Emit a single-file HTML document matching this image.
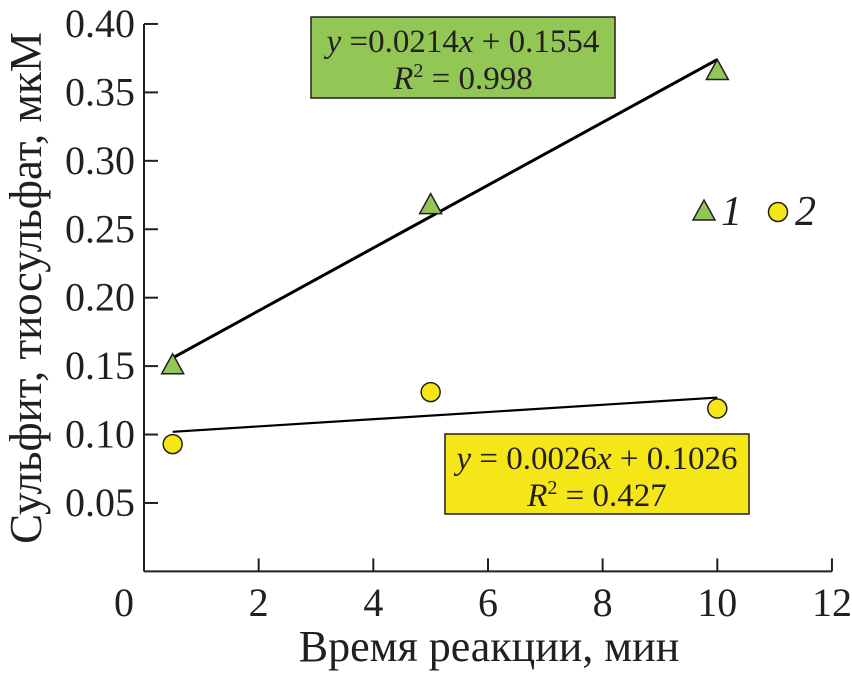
<!DOCTYPE html>
<html><head><meta charset="utf-8"><style>
html,body{margin:0;padding:0;background:#fff;}
svg text{font-family:"Liberation Serif",serif;fill:#231f20;}
</style></head><body>
<svg id="chart" width="852" height="673" viewBox="0 0 852 673" xmlns="http://www.w3.org/2000/svg">
<g id="axes"></g>
<g id="fits"></g>
<g id="marks"></g>
<rect x="311" y="17" width="304" height="81" fill="#92c756" stroke="#231f20" stroke-width="1.5"/>
<text x="463" y="52" font-size="33" text-anchor="middle"><tspan font-style="italic">y</tspan> =0.0214<tspan font-style="italic">x</tspan> + 0.1554</text>
<text x="463" y="89" font-size="33" text-anchor="middle"><tspan font-style="italic">R</tspan><tspan font-size="20" dy="-12">2</tspan><tspan dy="12"> = 0.998</tspan></text>
<rect x="445" y="434" width="304" height="80" fill="#f5e617" stroke="#231f20" stroke-width="1.5"/>
<text x="597" y="469" font-size="33" text-anchor="middle"><tspan font-style="italic">y</tspan> = 0.0026<tspan font-style="italic">x</tspan> + 0.1026</text>
<text x="597" y="506" font-size="33" text-anchor="middle"><tspan font-style="italic">R</tspan><tspan font-size="20" dy="-12">2</tspan><tspan dy="12"> = 0.427</tspan></text>
<g>
<polygon points="704,200 715,220 693,220" fill="#92c756" stroke="#231f20" stroke-width="1.5"/>
<text x="721" y="225" font-size="42" font-style="italic">1</text>
<circle cx="778" cy="212" r="9.5" fill="#f5e617" stroke="#231f20" stroke-width="1.5"/>
<text x="795" y="225" font-size="42" font-style="italic">2</text>
</g>
<text x="489" y="661" font-size="44" text-anchor="middle">Время реакции, мин</text>
<text transform="translate(41,288) rotate(-90)" font-size="45" text-anchor="middle">Сульфит, тиосульфат, мкМ</text>
</svg>
<script>
const xTicks=[0,2,4,6,8,10,12];
const yTicks=[0.05,0.10,0.15,0.20,0.25,0.30,0.35,0.40];
const yTickLabels=["0.05","0.10","0.15","0.20","0.25","0.30","0.35","0.40"];
const times=[0.5,5,10];
const series1=[0.151,0.268,0.366];
const series2=[0.093,0.131,0.119];
const fitX=[0.5,10];
const fit1=[0.156,0.374];
const fit2=[0.102,0.127];
const NS="http://www.w3.org/2000/svg";
function sx(v){return 144+v*57.33;}
function sy(v){return 571.4-v*1368.6;}
function mk(tag,attrs,parent){const e=document.createElementNS(NS,tag);for(const k in attrs)e.setAttribute(k,attrs[k]);parent.appendChild(e);return e;}
const axes=document.getElementById('axes');
let l=mk('line',{x1:sx(0),y1:sy(0),x2:sx(12),y2:sy(0),stroke:'#231f20','stroke-width':2},axes);


l=mk('line',{x1:sx(0),y1:sy(0),x2:sx(0),y2:sy(0.4),stroke:'#231f20','stroke-width':2},axes);


xTicks.forEach(v=>{
  const t=mk('line',{x1:sx(v),y1:sy(0),x2:sx(v),y2:sy(0)-13,stroke:'#231f20','stroke-width':2},axes);
  
  
  const tx=mk('text',{x:sx(v)-(v===0?20:0),y:616,'font-size':40,'text-anchor':'middle'},axes);
  tx.textContent=v;
  
  
});
yTicks.forEach((v,i)=>{
  const t=mk('line',{x1:sx(0),y1:sy(v),x2:sx(0)+14,y2:sy(v),stroke:'#231f20','stroke-width':2},axes);
  
  
  const tx=mk('text',{x:135,y:sy(v)+13,'font-size':40,'text-anchor':'end'},axes);
  tx.textContent=yTickLabels[i];
  
  
});
const fits=document.getElementById('fits');
let f=mk('line',{x1:sx(fitX[0]),y1:sy(fit1[0]),x2:sx(fitX[1]),y2:sy(fit1[1]),stroke:'#000','stroke-width':3},fits);


f=mk('line',{x1:sx(fitX[0]),y1:sy(fit2[0]),x2:sx(fitX[1]),y2:sy(fit2[1]),stroke:'#000','stroke-width':2.2},fits);


const marks=document.getElementById('marks');
times.forEach((t,i)=>{
  const x=sx(t),y=sy(series1[i]);
  const p=mk('polygon',{points:`${x},${y-11} ${x+11},${y+9} ${x-11},${y+9}`,fill:'#92c756',stroke:'#231f20','stroke-width':1.5},marks);
  
  
  const c=mk('circle',{cx:x,cy:sy(series2[i]),r:9.5,fill:'#f5e617',stroke:'#231f20','stroke-width':1.5},marks);
  
  
});
</script>
</body></html>
